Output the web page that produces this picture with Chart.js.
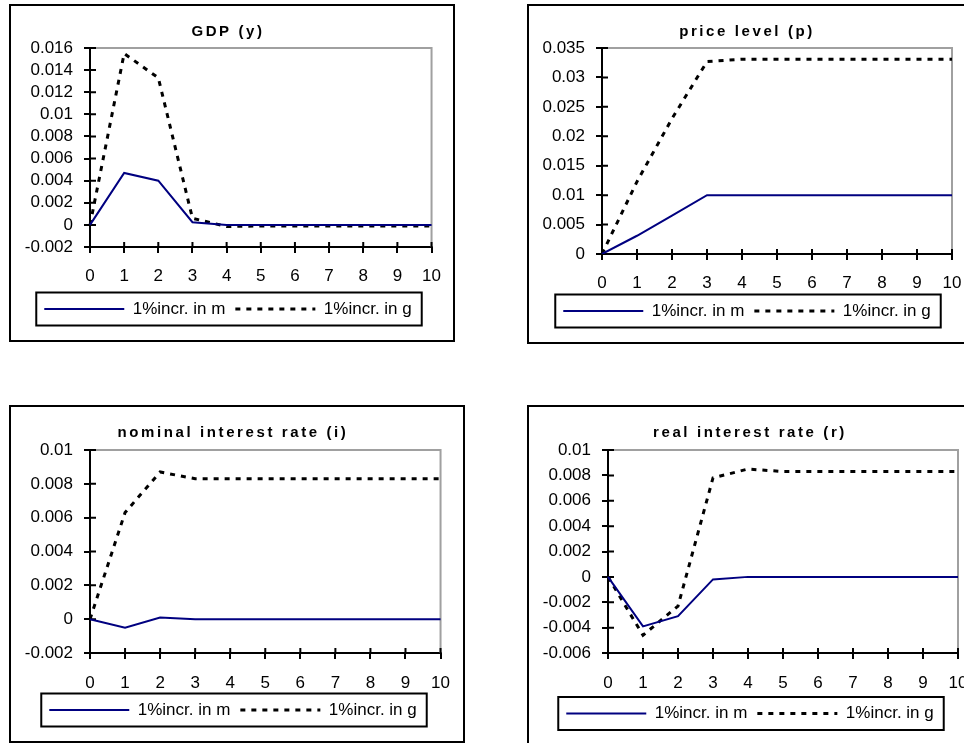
<!DOCTYPE html>
<html>
<head>
<meta charset="utf-8">
<script src="https://cdn.jsdelivr.net/npm/chart.js@4.4.1/dist/chart.umd.min.js"></script>
<style>
  html, body { margin: 0; padding: 0; background: #fff; }
  body { width: 964px; height: 743px; overflow: hidden; position: relative; }
  .frame { position: absolute; border: 2px solid #000; box-sizing: border-box; }
  .holder { position: absolute; }
</style>
</head>
<body>
<div class="frame" style="left:9px;top:4px;width:446px;height:338px"></div>
<div class="frame" style="left:527px;top:4px;width:500px;height:340px"></div>
<div class="frame" style="left:9px;top:405px;width:456px;height:338px"></div>
<div class="frame" style="left:527px;top:405px;width:500px;height:400px"></div>

<div class="holder" style="left:10px;top:5px"><canvas id="gdpChart" width="444" height="336"></canvas></div>
<div class="holder" style="left:528px;top:5px"><canvas id="priceChart" width="460" height="338"></canvas></div>
<div class="holder" style="left:10px;top:406px"><canvas id="nominalChart" width="454" height="336"></canvas></div>
<div class="holder" style="left:528px;top:406px"><canvas id="realChart" width="460" height="337"></canvas></div>

<script>
// periodos (eje x)
const periodos = ['0', '1', '2', '3', '4', '5', '6', '7', '8', '9', '10'];
const etiquetaM = '1%incr. in m';
const etiquetaG = '1%incr. in g';

// GDP (y)
const gdpM = [0, 0.0047, 0.0040, 0.00024, 0, 0, 0, 0, 0, 0, 0];
const gdpG = [0, 0.0155, 0.0133, 0.0006, -0.00015, -0.0001, -0.0001, -0.0001, -0.0001, -0.0001, -0.0001];

// price level (p)
const priceM = [0, 0.0031, 0.0065, 0.01, 0.01, 0.01, 0.01, 0.01, 0.01, 0.01, 0.01];
const priceG = [0, 0.0123, 0.0230, 0.0327, 0.0331, 0.0331, 0.0331, 0.0331, 0.0331, 0.0331, 0.0331];

// nominal interest rate (i)
const nominalM = [0, -0.0005, 0.0001, 0, 0, 0, 0, 0, 0, 0, 0];
const nominalG = [0, 0.0063, 0.0087, 0.0083, 0.0083, 0.0083, 0.0083, 0.0083, 0.0083, 0.0083, 0.0083];

// real interest rate (r)
const realM = [0, -0.0039, -0.0031, -0.0002, 0, 0, 0, 0, 0, 0, 0];
const realG = [0, -0.0046, -0.0023, 0.0078, 0.0085, 0.0083, 0.0083, 0.0083, 0.0083, 0.0083, 0.0083];

Chart.defaults.font.family = "'Liberation Sans', Arial, sans-serif";
Chart.defaults.color = '#000';

// marco gris del area, marcas internas de los ejes y recuadro de la leyenda
const excelLook = {
    id: 'excelLook',
    afterInit(chart) {
        const title = chart.titleBlock;
        const orig = title.draw;
        title.draw = function (area) {
            chart.ctx.save();
            chart.ctx.letterSpacing = '2.6px';
            orig.call(this, area);
            chart.ctx.restore();
        };
    },
    beforeDatasetsDraw(chart) {
        const { ctx, chartArea: a, scales } = chart;
        ctx.save();
        ctx.strokeStyle = '#a0a0a0';
        ctx.lineWidth = 2;
        ctx.beginPath();
        ctx.moveTo(a.left, a.top);
        ctx.lineTo(a.right, a.top);
        ctx.lineTo(a.right, a.bottom);
        ctx.stroke();
        ctx.strokeStyle = '#000';
        ctx.beginPath();
        scales.x.ticks.forEach((t, i) => {
            const px = scales.x.getPixelForTick(i);
            ctx.moveTo(px, a.bottom);
            ctx.lineTo(px, a.bottom - 5);
        });
        scales.y.ticks.forEach((t, i) => {
            const py = scales.y.getPixelForTick(i);
            ctx.moveTo(a.left, py);
            ctx.lineTo(a.left + 6, py);
        });
        ctx.stroke();
        ctx.restore();
    },
    afterDraw(chart) {
        const hb = chart.legend.legendHitBoxes;
        if (!hb || !hb.length) return;
        const last = hb[hb.length - 1];
        const left = hb[0].left - 8;
        const right = last.left + last.width + 10;
        const cy = hb[0].top + hb[0].height / 2;
        const ctx = chart.ctx;
        ctx.save();
        ctx.strokeStyle = '#000';
        ctx.lineWidth = 2;
        ctx.strokeRect(left, cy - 16.5, right - left, 33);
        ctx.restore();
    }
};

function crearGrafico(id, titulo, serieM, serieG, ejeY, caja) {
    const ctx = document.getElementById(id).getContext('2d');
    return new Chart(ctx, {
        type: 'line',
        data: {
            labels: periodos,
            datasets: [{
                label: etiquetaM,
                data: serieM,
                borderColor: '#000080',
                borderWidth: 2,
                pointRadius: 0,
                tension: 0
            }, {
                label: etiquetaG,
                data: serieG,
                borderColor: '#000',
                borderWidth: 3,
                borderDash: [5, 6],
                pointRadius: 0,
                tension: 0
            }]
        },
        options: {
            responsive: false,
            animation: false,
            events: [],
            layout: {
                padding: { left: caja.padLeft, right: caja.padRight, top: 0, bottom: caja.padBottom }
            },
            scales: {
                x: {
                    type: 'category',
                    afterFit(scale) { scale.height = caja.xHeight; },
                    grid: { drawOnChartArea: false, tickLength: 6, lineWidth: 2, color: '#000' },
                    border: { display: true, color: '#000', width: 2 },
                    ticks: { autoSkip: false, maxRotation: 0, padding: caja.xPad, font: { size: 17 } }
                },
                y: {
                    min: ejeY.min,
                    max: ejeY.max,
                    afterFit(scale) { scale.width = caja.yWidth; },
                    grid: { drawOnChartArea: false, tickLength: 6, lineWidth: 2, color: '#000' },
                    border: { display: true, color: '#000', width: 2 },
                    ticks: {
                        stepSize: ejeY.step,
                        autoSkip: false,
                        padding: 11,
                        font: { size: 17 },
                        callback: v => String(parseFloat(Number(v).toFixed(5)))
                    }
                }
            },
            plugins: {
                title: {
                    display: true,
                    text: titulo,
                    font: { size: 15, weight: 'bold' },
                    padding: { top: 18, bottom: caja.titleBottom }
                },
                legend: {
                    position: 'bottom',
                    labels: {
                        usePointStyle: true,
                        pointStyle: 'line',
                        pointStyleWidth: 80,
                        padding: 10,
                        font: { size: 17 },
                        generateLabels(chart) {
                            return chart.data.datasets.map((ds, i) => ({
                                text: ds.label,
                                strokeStyle: ds.borderColor,
                                fillStyle: ds.borderColor,
                                lineWidth: ds.borderWidth,
                                lineDash: ds.borderDash || [],
                                lineCap: 'butt',
                                pointStyle: 'line',
                                fontColor: '#000',
                                hidden: false,
                                datasetIndex: i
                            }));
                        }
                    }
                },
                tooltip: { enabled: false }
            }
        },
        plugins: [excelLook]
    });
}

crearGrafico('gdpChart', 'GDP (y)', gdpM, gdpG,
    { min: -0.002, max: 0.016, step: 0.002 },
    { padLeft: 14, padRight: 22, padBottom: 13.5, yWidth: 66, xHeight: 43.5, xPad: 13, titleBottom: 7 });

crearGrafico('priceChart', 'price level (p)', priceM, priceG,
    { min: 0, max: 0.035, step: 0.005 },
    { padLeft: 14, padRight: 36, padBottom: 13.5, yWidth: 60, xHeight: 38.5, xPad: 13, titleBottom: 7 });

crearGrafico('nominalChart', 'nominal interest rate (i)', nominalM, nominalG,
    { min: -0.002, max: 0.01, step: 0.002 },
    { padLeft: 14, padRight: 22, padBottom: 13.5, yWidth: 66, xHeight: 38.5, xPad: 14, titleBottom: 8 });

crearGrafico('realChart', 'real interest rate (r)', realM, realG,
    { min: -0.006, max: 0.01, step: 0.002 },
    { padLeft: 14, padRight: 30, padBottom: 11, yWidth: 66, xHeight: 42, xPad: 14, titleBottom: 8 });
</script>
</body>
</html>
